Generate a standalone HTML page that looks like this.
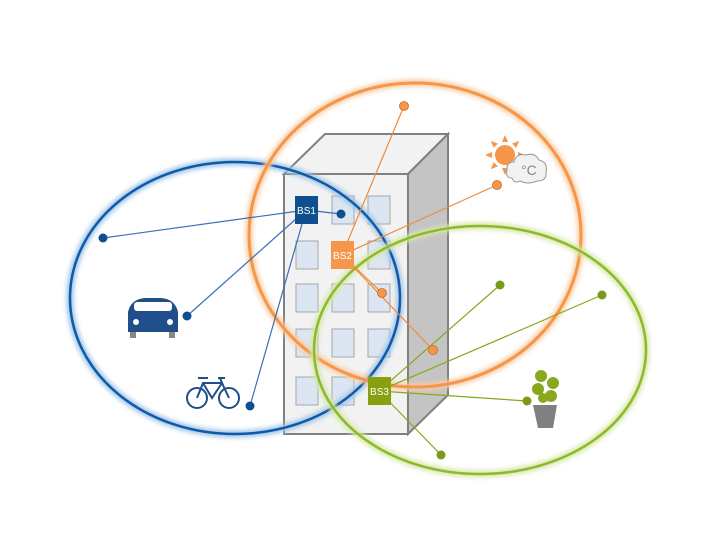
<!DOCTYPE html>
<html><head><style>body{margin:0;background:#fff}svg{display:block}</style></head><body>
<svg width="720" height="540" viewBox="0 0 720 540" xmlns="http://www.w3.org/2000/svg" font-family="Liberation Sans, sans-serif">
<defs><filter id="b" x="-20%" y="-20%" width="140%" height="140%"><feGaussianBlur stdDeviation="2.5"/></filter></defs>
<!-- building -->
<polygon points="284,174 325,134 448,134 408,174" fill="#f2f2f2" stroke="#808080" stroke-width="2"/>
<polygon points="408,174 448,134 448,395 408,434" fill="#c4c4c4" stroke="#808080" stroke-width="2"/>
<rect x="284" y="174" width="124" height="260" fill="#f2f2f2" stroke="#808080" stroke-width="2"/>
<g fill="#dce6f2" stroke="#a6a6a6" stroke-width="1">
<rect x="332" y="196" width="22" height="28"/><rect x="368" y="196" width="22" height="28"/>
<rect x="296" y="241" width="22" height="28"/><rect x="368" y="241" width="22" height="28"/>
<rect x="296" y="284" width="22" height="28"/><rect x="332" y="284" width="22" height="28"/><rect x="368" y="284" width="22" height="28"/>
<rect x="296" y="329" width="22" height="28"/><rect x="332" y="329" width="22" height="28"/><rect x="368" y="329" width="22" height="28"/>
<rect x="296" y="377" width="22" height="28"/><rect x="332" y="377" width="22" height="28"/>
</g>
<!-- ellipses -->
<g fill="none">
<ellipse cx="235" cy="298" rx="165" ry="136" stroke="#9dc3e6" stroke-width="7" filter="url(#b)"/>
<ellipse cx="235" cy="298" rx="165" ry="136" stroke="#0f5aa8" stroke-width="2.5"/>
<ellipse cx="415" cy="235" rx="166" ry="152" stroke="#f8cba0" stroke-width="7" filter="url(#b)"/>
<ellipse cx="415" cy="235" rx="166" ry="152" stroke="#f5964a" stroke-width="3"/>
<ellipse cx="480" cy="350" rx="166" ry="124" stroke="#d6e8a8" stroke-width="7" filter="url(#b)"/>
<ellipse cx="480" cy="350" rx="166" ry="124" stroke="#8db92e" stroke-width="2.5"/>
</g>
<!-- lines -->
<g stroke="#3a6fb5" stroke-width="1.2">
<line x1="306" y1="210" x2="103" y2="238"/><line x1="306" y1="210" x2="187" y2="316"/><line x1="306" y1="210" x2="250" y2="406"/><line x1="306" y1="210" x2="341" y2="214"/>
</g>
<g stroke="#f08a3a" stroke-width="1.2">
<line x1="342" y1="255" x2="404" y2="106"/><line x1="342" y1="255" x2="497" y2="185"/><line x1="342" y1="255" x2="382" y2="293"/><line x1="342" y1="255" x2="433" y2="350"/>
</g>
<g stroke="#86a81e" stroke-width="1.2">
<line x1="379" y1="391" x2="500" y2="285"/><line x1="379" y1="391" x2="602" y2="295"/><line x1="379" y1="391" x2="527" y2="401"/><line x1="379" y1="391" x2="441" y2="455"/>
</g>
<g fill="#0f4f8f"><circle cx="103" cy="238" r="4.5"/><circle cx="187" cy="316" r="4.5"/><circle cx="250" cy="406" r="4.5"/><circle cx="341" cy="214" r="4.5"/></g>
<g fill="#f5964a" stroke="#c86a20" stroke-width="0.8"><circle cx="404" cy="106" r="4.5"/><circle cx="497" cy="185" r="4.5"/><circle cx="382" cy="293" r="4.5"/><circle cx="433" cy="350" r="4.5"/></g>
<g fill="#7a9a1a"><circle cx="500" cy="285" r="4.5"/><circle cx="602" cy="295" r="4.5"/><circle cx="527" cy="401" r="4.5"/><circle cx="441" cy="455" r="4.5"/></g>
<!-- BS boxes -->
<rect x="295" y="196" width="23" height="28" fill="#0f4f8f"/><text x="306.5" y="214" fill="#fff" font-size="10" text-anchor="middle">BS1</text>
<rect x="331" y="241" width="23" height="28" fill="#f5964a"/><text x="342.5" y="259" fill="#fff" font-size="10" text-anchor="middle">BS2</text>
<rect x="368" y="377" width="23" height="28" fill="#86a010"/><text x="379.5" y="395" fill="#fff" font-size="10" text-anchor="middle">BS3</text>
<!-- car -->
<g>
<rect x="130" y="329" width="6" height="9" fill="#888"/><rect x="169" y="329" width="6" height="9" fill="#888"/>
<path d="M128,312 Q131,299 145,298 L161,298 Q175,299 178,312 L178,332 L128,332 Z" fill="#1f4e8a"/>
<rect x="134" y="302" width="38" height="9" rx="3" fill="#fff"/>
<circle cx="136" cy="322" r="3" fill="#fff"/><circle cx="170" cy="322" r="3" fill="#fff"/>
</g>
<!-- bike -->
<g fill="none" stroke="#1f4e8a" stroke-width="2">
<circle cx="197" cy="398" r="10"/><circle cx="229" cy="398" r="10"/>
<path d="M197,398 L203,383 L222,383 L229,398 M203,383 L212,398 L222,383 M198,378 L208,378 M220,378 L222,383 M218,378 L225,378"/>
</g>
<!-- sun & cloud -->
<g fill="#f5964a">
<circle cx="505" cy="155" r="10"/>
<g transform="translate(505,155)">
<polygon points="-3,-13 3,-13 0,-20"/><polygon points="-3,13 3,13 0,20"/><polygon points="-13,-3 -13,3 -20,0"/><polygon points="13,-3 13,3 20,0"/>
<g transform="rotate(45)"><polygon points="-3,-13 3,-13 0,-20"/><polygon points="-3,13 3,13 0,20"/><polygon points="-13,-3 -13,3 -20,0"/><polygon points="13,-3 13,3 20,0"/></g>
</g>
</g>
<path d="M512,178 Q505,178 507,170 Q506,162 514,162 Q516,153 526,155 Q535,152 539,160 Q548,162 546,172 Q547,181 537,181 Q528,185 520,181 Q514,184 512,178 Z" fill="#f2f2f2" stroke="#999" stroke-width="1"/>
<text x="521" y="175" font-size="14" fill="#888">°C</text>
<!-- plant -->
<polygon points="533,405 557,405 553,428 538,428" fill="#808080"/>
<g fill="#8aa81e"><circle cx="541" cy="376" r="6"/><circle cx="553" cy="383" r="6"/><circle cx="538" cy="389" r="6"/><circle cx="551" cy="396" r="6"/><circle cx="543" cy="398" r="5"/></g>
</svg>
</body></html>
